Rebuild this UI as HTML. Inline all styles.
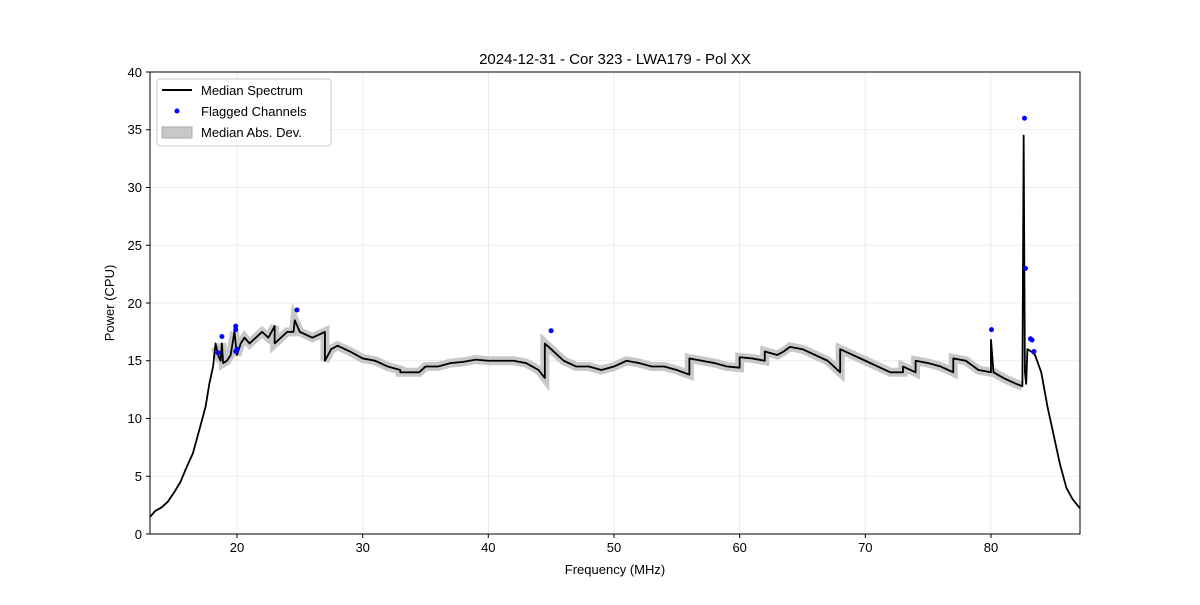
<!DOCTYPE html>
<html><head><meta charset="utf-8"><style>body{margin:0;background:#fff}svg{font-family:"Liberation Sans","DejaVu Sans",sans-serif}</style></head>
<body>
<svg width="1200" height="600" viewBox="0 0 1200 600" xmlns="http://www.w3.org/2000/svg">
<rect width="1200" height="600" fill="#fff"/>
<g stroke="#e6e6e6" stroke-width="0.8">
<line x1="237" y1="72" x2="237" y2="534"/><line x1="362.7" y1="72" x2="362.7" y2="534"/><line x1="488.3" y1="72" x2="488.3" y2="534"/><line x1="614" y1="72" x2="614" y2="534"/><line x1="739.7" y1="72" x2="739.7" y2="534"/><line x1="865.3" y1="72" x2="865.3" y2="534"/><line x1="991" y1="72" x2="991" y2="534"/>
<line x1="150" y1="476.25" x2="1080" y2="476.25"/><line x1="150" y1="418.5" x2="1080" y2="418.5"/><line x1="150" y1="360.75" x2="1080" y2="360.75"/><line x1="150" y1="303" x2="1080" y2="303"/><line x1="150" y1="245.25" x2="1080" y2="245.25"/><line x1="150" y1="187.5" x2="1080" y2="187.5"/><line x1="150" y1="129.75" x2="1080" y2="129.75"/>
</g>
<g transform="matrix(12.567,0,0,-11.55,-14.38,534)" fill="none">
<polyline vector-effect="non-scaling-stroke" stroke="#c8c8c8" stroke-width="9" stroke-linejoin="miter" stroke-linecap="butt" points="18.3,16.2 18.5,15.5 18.7,15.0 18.8,16.5 18.9,14.8 19.2,15 19.5,15.5 19.8,17.5 20,15.5 20.3,16.5 20.6,17.0 21,16.5 21.5,17 22,17.5 22.5,17.0 23,18 23,16.5 24,17.5 24.5,17.5 24.6,18.5 25,17.5 26,17 27,17.5 27,15 27.5,16 28,16.3 29,15.8 30,15.2 31,15 32,14.5 33,14.2 33,14 34.5,14 35,14.5 36,14.5 37,14.8 38,14.9 39,15.1 40,15 41,15 42,15 43,14.8 44,14.2 44.5,13.5 44.5,16.5 45,16.0 46,15.0 47,14.5 48,14.5 49,14.2 50,14.5 51,15 52,14.8 53,14.5 54,14.5 55,14.2 56,13.8 56,15.2 57,15 58,14.8 59,14.5 60,14.4 60,15.3 61,15.2 62,15 62,15.8 63,15.5 63.5,15.8 64,16.2 65,16 66,15.5 67,15 68,14 68,16 69,15.5 70,15 71,14.5 72,14 73,14 73,14.5 74,14 74,15 75,14.8 76,14.5 77,14 77,15.2 78,15 79,14.2 80,14 80.2,14 81,13.5 82,13 82.5,12.8"/>
<polyline vector-effect="non-scaling-stroke" stroke="#000" stroke-width="1.8" stroke-linejoin="round" points="13.1,1.5 13.5,2 14,2.3 14.5,2.8 15,3.6 15.5,4.5 16,5.8 16.5,7.0 17,9 17.5,11 17.8,13 18.1,14.5 18.3,16.5 18.5,15.5 18.7,15.0 18.8,16.5 18.9,14.8 19.2,15 19.5,15.5 19.8,17.5 20,15.5 20.3,16.5 20.6,17.0 21,16.5 21.5,17 22,17.5 22.5,17.0 23,18 23,16.5 24,17.5 24.5,17.5 24.6,18.5 25,17.5 26,17 27,17.5 27,15 27.5,16 28,16.3 29,15.8 30,15.2 31,15 32,14.5 33,14.2 33,14 34.5,14 35,14.5 36,14.5 37,14.8 38,14.9 39,15.1 40,15 41,15 42,15 43,14.8 44,14.2 44.5,13.5 44.5,16.5 45,16.0 46,15.0 47,14.5 48,14.5 49,14.2 50,14.5 51,15 52,14.8 53,14.5 54,14.5 55,14.2 56,13.8 56,15.2 57,15 58,14.8 59,14.5 60,14.4 60,15.3 61,15.2 62,15 62,15.8 63,15.5 63.5,15.8 64,16.2 65,16 66,15.5 67,15 68,14 68,16 69,15.5 70,15 71,14.5 72,14 73,14 73,14.5 74,14 74,15 75,14.8 76,14.5 77,14 77,15.2 78,15 79,14.2 80,14 80,16.8 80.2,14 81,13.5 82,13 82.5,12.8 82.6,34.5 82.7,14 82.8,13 82.9,16 83.2,15.8 83.5,15.5 84,14 84.5,11 85,8.5 85.5,6 86,4 86.5,3 87.1,2.2"/>
</g>
<g fill="#0000ff">
<circle cx="218.1" cy="352.7" r="2.5"/><circle cx="221.9" cy="336.5" r="2.5"/><circle cx="235.7" cy="326.1" r="2.5"/><circle cx="235.7" cy="329.6" r="2.5"/><circle cx="237" cy="349.2" r="2.5"/><circle cx="235.7" cy="351.5" r="2.5"/><circle cx="297" cy="310" r="2.5"/><circle cx="551.1" cy="330.7" r="2.5"/><circle cx="991.5" cy="329.6" r="2.5"/><circle cx="1024.5" cy="118.2" r="2.5"/><circle cx="1025.5" cy="268.4" r="2.5"/><circle cx="1030.5" cy="338.8" r="2.5"/><circle cx="1032" cy="340" r="2.5"/><circle cx="1034" cy="351.5" r="2.5"/>
</g>
<rect x="150" y="72" width="930" height="462" fill="none" stroke="#000" stroke-width="1"/>
<g stroke="#000" stroke-width="1">
<line x1="237" y1="534" x2="237" y2="538"/><line x1="362.7" y1="534" x2="362.7" y2="538"/><line x1="488.3" y1="534" x2="488.3" y2="538"/><line x1="614" y1="534" x2="614" y2="538"/><line x1="739.7" y1="534" x2="739.7" y2="538"/><line x1="865.3" y1="534" x2="865.3" y2="538"/><line x1="991" y1="534" x2="991" y2="538"/>
<line x1="146" y1="534" x2="150" y2="534"/><line x1="146" y1="476.25" x2="150" y2="476.25"/><line x1="146" y1="418.5" x2="150" y2="418.5"/><line x1="146" y1="360.75" x2="150" y2="360.75"/><line x1="146" y1="303" x2="150" y2="303"/><line x1="146" y1="245.25" x2="150" y2="245.25"/><line x1="146" y1="187.5" x2="150" y2="187.5"/><line x1="146" y1="129.75" x2="150" y2="129.75"/><line x1="146" y1="72" x2="150" y2="72"/>
</g>
<g font-size="13" fill="#000" text-anchor="middle">
<text x="237" y="552">20</text><text x="362.7" y="552">30</text><text x="488.3" y="552">40</text><text x="614" y="552">50</text><text x="739.7" y="552">60</text><text x="865.3" y="552">70</text><text x="991" y="552">80</text>
<text x="615" y="574">Frequency (MHz)</text>
<text x="615" y="64" font-size="15">2024-12-31 - Cor 323 - LWA179 - Pol XX</text>
<text transform="translate(114,303) rotate(-90)">Power (CPU)</text>
</g>
<g font-size="13" fill="#000" text-anchor="end">
<text x="142" y="539">0</text><text x="142" y="481">5</text><text x="142" y="423">10</text><text x="142" y="365">15</text><text x="142" y="308">20</text><text x="142" y="250">25</text><text x="142" y="192">30</text><text x="142" y="134">35</text><text x="142" y="77">40</text>
</g>
<rect x="157" y="79" width="174" height="67" rx="3" fill="#fff" fill-opacity="0.8" stroke="#ccc"/>
<line x1="162" y1="90" x2="192" y2="90" stroke="#000" stroke-width="2"/>
<circle cx="177" cy="111" r="2.5" fill="#0000ff"/>
<rect x="162" y="127" width="30" height="11" fill="#c8c8c8" stroke="#aaa"/>
<g font-size="13" fill="#000"><text x="201" y="95">Median Spectrum</text><text x="201" y="116">Flagged Channels</text><text x="201" y="137">Median Abs. Dev.</text></g>
</svg>
</body></html>
